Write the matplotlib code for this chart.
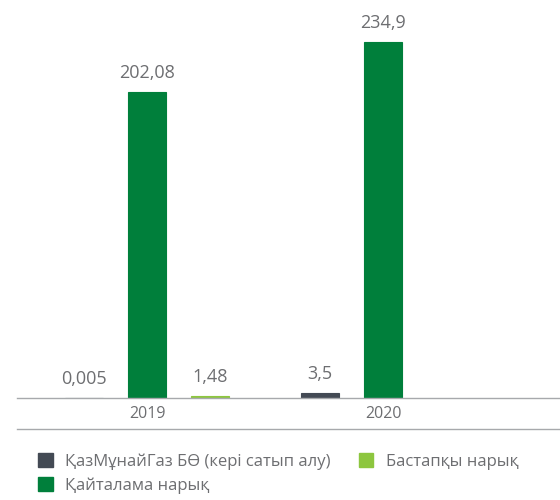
"""Bond placements by market, 2019-2020 (bn tenge)"""
import numpy as np
import matplotlib
matplotlib.use("Agg")
from matplotlib import pyplot as plt
from matplotlib.lines import Line2D
from matplotlib.patches import Patch

years = ["2019", "2020"]
buyback = [0.005, 3.5]
secondary = [202.08, 234.9]
primary = [1.48, None]

buyback_labels = ["0,005", "3,5"]
secondary_labels = ["202,08", "234,9"]
primary_labels = ["1,48", ""]

series_names = ["ҚазМұнайГаз БӨ (кері сатып алу)", "Қайталама нарық",
                "Бастапқы нарық"]

DARK = "#434a54"
GREEN = "#007f3b"
LIGHT = "#8dc63f"
TEXT = "#6d6e71"
LINE = "#a7a9ac"

plt.rcParams["font.family"] = ["Open Sans", "DejaVu Sans"]


def main():
    fig = plt.figure(figsize=(5.6, 5.0), dpi=100)
    ax = fig.add_axes([17 / 560, 102 / 500, 543 / 560, 398 / 500])

    x = np.arange(len(years))
    off = 63 / 236
    width = 38 / 236

    series = [(buyback, buyback_labels, DARK, -off),
              (secondary, secondary_labels, GREEN, 0.0),
              (primary, primary_labels, LIGHT, off)]
    for values, labels, color, dx in series:
        for xi, v, lab in zip(x, values, labels):
            if v is None:
                continue
            ax.bar(xi + dx, v, width=width, color=color,
                   edgecolor=color, linewidth=0.8)
            ax.annotate(lab, (xi + dx, v), xytext=(0, 7),
                        textcoords="offset points", ha="center",
                        va="bottom", fontsize=13, color=TEXT)

    ax.set_xlim((17 - 147) / 236, (560 - 147) / 236)
    ax.set_ylim(0, 398 / 1.515)
    ax.set_xticks(x)
    ax.set_xticklabels(years, fontsize=11.5, color=TEXT)
    ax.tick_params(axis="x", length=0, pad=6)
    ax.set_yticks([])
    for side in ["top", "left", "right"]:
        ax.spines[side].set_visible(False)
    ax.spines["bottom"].set_color(LINE)
    ax.spines["bottom"].set_linewidth(1)

    # line under the year labels
    fig.add_artist(Line2D([17 / 560, 1], [1 - 429 / 500] * 2,
                          color=LINE, linewidth=1))

    handles = [Patch(color=DARK), Patch(color=GREEN), Patch(color=LIGHT)]
    fig.legend(handles, series_names, ncol=2, loc="upper left",
               bbox_to_anchor=(25 / 560, 1 - 440 / 500), frameon=False,
               fontsize=12, labelcolor=TEXT, handlelength=0.85,
               handleheight=0.85, handletextpad=0.75, columnspacing=1.7,
               labelspacing=0.45, borderpad=0.3)

    fig.savefig("out.png", dpi=100)


if __name__ == '__main__':
    main()
